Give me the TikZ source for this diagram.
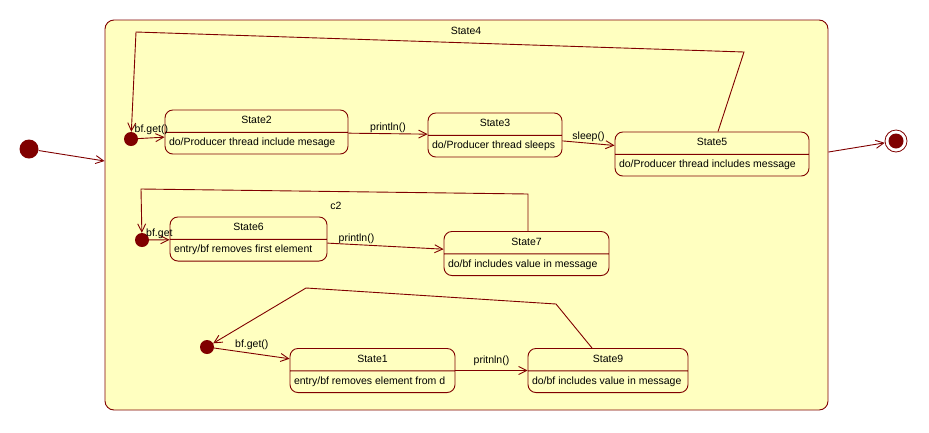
\documentclass[tikz,border=0pt]{standalone}
\usepackage{fontspec}
\setmainfont{Liberation Sans}
\usepackage{tikz}
\usetikzlibrary{arrows.meta,positioning,shapes.multipart}
\definecolor{wine}{HTML}{800000}
\definecolor{paper}{HTML}{FFFFC0}
\tikzset{
  comp/.style={draw=wine, fill=paper, rounded corners=9pt, line width=0.9pt, inner sep=0pt},
  st/.style={rectangle split, rectangle split parts=2, rectangle split part align={center,left},
             draw=wine, fill=paper, rounded corners=8pt, line width=0.9pt, inner xsep=4pt, inner ysep=5.5pt,
             text height=8pt, text depth=2.5pt, font=\fontsize{10.5}{12}\selectfont},
  ini/.style={circle, fill=wine, inner sep=0pt, minimum size=14pt},
  fin/.style={circle, draw=wine, fill=white, line width=0.8pt, inner sep=0pt, minimum size=22pt,
              path picture={\fill[wine] (path picture bounding box.center) circle[radius=7.5pt];}},
  arr/.style={-{Straight Barb[length=8pt,width=8pt]}, line width=0.9pt, draw=wine},
  lbl/.style={font=\fontsize{10.5}{12}\selectfont, inner sep=1pt},
}
\begin{document}
\begin{tikzpicture}[x=1pt, y=-1pt]
  \useasboundingbox (0,0) rectangle (929,432);
  \node[comp, minimum width=723pt, minimum height=390pt] (s4) at (466.5,215) {};
  \node[lbl] (s4t) at (466,31) {State4};
  \node[ini, minimum size=19pt] (i1) at (29,149) {};
  \node[fin] (f) at (896,141) {};
  \draw[arr] (i1) -- ([yshift=54pt]s4.west);
  \draw[arr] ([yshift=63pt]s4.east) -- (f);
  % producer
  \node[ini] (i2) at (131,139) {};
  \node[st, minimum width=183pt, minimum height=48pt] (s2) at (256.5,132) {State2\nodepart{two}do/Producer thread include mesage};
  \node[st, minimum width=134pt] (s3) at (495,135) {State3\nodepart{two}do/Producer thread sleeps};
  \node[st, minimum width=194pt] (s5) at (712,154) {State5\nodepart{two}do/Producer thread includes message};
  \coordinate (k1) at (744,52);
  \coordinate (k2) at (136,32);
  \draw[arr] (i2) -- node[lbl, above=2pt] {bf.get()} (s2);
  \draw[arr] (s2) -- node[lbl, above] {println()} (s3);
  \draw[arr] (s3) -- node[lbl, above] {sleep()} (s5);
  \draw[arr] ([xshift=6pt]s5.north) -- (k1) -- (k2) -- (i2);
  % c2
  \node[lbl] (c2) at (336,206) {c2};
  \node[ini] (i3) at (142,240) {};
  \node[st, minimum width=157pt] (s6) at (248.5,239) {State6\nodepart{two}entry/bf removes first element};
  \node[st, minimum width=165pt] (s7) at (526.5,253.5) {State7\nodepart{two}do/bf includes value in message};
  \coordinate (k3) at (528,194);
  \coordinate (k4) at (141,189);
  \draw[arr] (i3) -- node[lbl, above] {bf.get} (s6);
  \draw[arr] (s6) -- node[lbl, above, pos=0.25] {println()} (s7);
  \draw[arr] (s7.north -| k3) -- (k3) -- (k4) -- (i3);
  % consumer
  \node[ini] (i4) at (207,347) {};
  \node[st, minimum width=165pt] (s1) at (372.5,370.5) {State1\nodepart{two}entry/bf removes element from d};
  \node[st, minimum width=160pt] (s9) at (608,370.5) {State9\nodepart{two}do/bf includes value in message};
  \coordinate (k5) at (556,304);
  \coordinate (k6) at (306,288);
  \draw[arr] (i4) -- node[lbl, above=2pt] {bf.get()} (s1);
  \draw[arr] (s1) -- node[lbl, above=3pt] {pritnln()} (s9);
  \draw[arr] ([xshift=-16pt]s9.north) -- (k5) -- (k6) -- (i4);
\end{tikzpicture}
\end{document}
